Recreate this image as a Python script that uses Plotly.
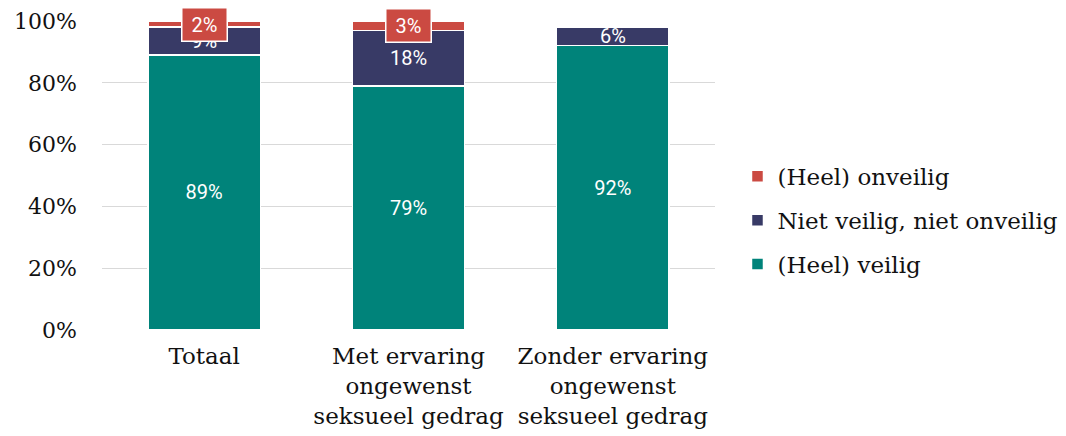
import plotly.graph_objects as go

categories = ["Totaal", "Met ervaring<br>ongewenst<br>seksueel gedrag", "Zonder ervaring<br>ongewenst<br>seksueel gedrag"]
veilig = [89, 79, 92]
neutraal = [9, 18, 6]
onveilig = [2, 3, None]
tick_vals = [0, 20, 40, 60, 80, 100]
tick_text = ["0%", "20%", "40%", "60%", "80%", "100%"]

GREEN = "#00837A"
NAVY = "#383A66"
RED = "#CB4A42"
SERIF = "DejaVu Serif"
SANS = "Roboto"

def labels(vals):
    return [f"{v}%" if v else "" for v in vals]

fig = go.Figure()
fig.add_trace(go.Bar(x=categories, y=veilig, name="(Heel) veilig", marker=dict(color=GREEN, line=dict(color="white", width=1.5)),
                     text=labels(veilig), textposition="inside", insidetextanchor="middle", constraintext="none",
                     textfont=dict(color="white", size=20, family=SANS), legendgroup="a", legendrank=3))
fig.add_trace(go.Bar(x=categories, y=neutraal, name="Niet veilig, niet onveilig", marker=dict(color=NAVY, line=dict(color="white", width=1.5)),
                     text=labels(neutraal), textposition="inside", insidetextanchor="middle", constraintext="none",
                     textfont=dict(color="white", size=20, family=SANS), legendgroup="b", legendrank=2))
fig.add_trace(go.Bar(x=categories, y=onveilig, name="(Heel) onveilig", marker=dict(color=RED, line=dict(color="white", width=1.5)),
                     legendgroup="c", legendrank=1))

for c, a, b, r in zip(categories, veilig, neutraal, onveilig):
    if r:
        fig.add_annotation(x=c, y=a + b + r / 2, text=f"&nbsp;{r}%&nbsp;", showarrow=False,
                           font=dict(color="white", size=20, family=SANS),
                           bgcolor=RED, bordercolor="white", borderwidth=1.5, borderpad=4)

fig.update_layout(
    width=1066, height=436,
    margin=dict(l=94, r=358, t=13, b=114),
    barmode="stack", bargap=0.45,
    plot_bgcolor="white", paper_bgcolor="white",
    showlegend=True,
    legend=dict(x=1.035, xanchor="left", y=0.355, yanchor="middle", xref="paper",
                traceorder="grouped", tracegroupgap=11,
                font=dict(family=SERIF, size=23, color="#111111")),
    font=dict(family=SERIF, size=22, color="#111111"),
)
fig.update_yaxes(range=[0, 100], tickvals=tick_vals, ticktext=tick_text, showgrid=True, automargin=False,
                 gridcolor="#D9D9D9", gridwidth=1, zeroline=False, ticklabelstandoff=24,
                 tickfont=dict(family=SERIF, size=22, color="#111111"))
fig.update_xaxes(showline=False, automargin=False, tickfont=dict(family=SERIF, size=23, color="#111111"), ticklabelstandoff=10)

fig.write_html("out.html")
